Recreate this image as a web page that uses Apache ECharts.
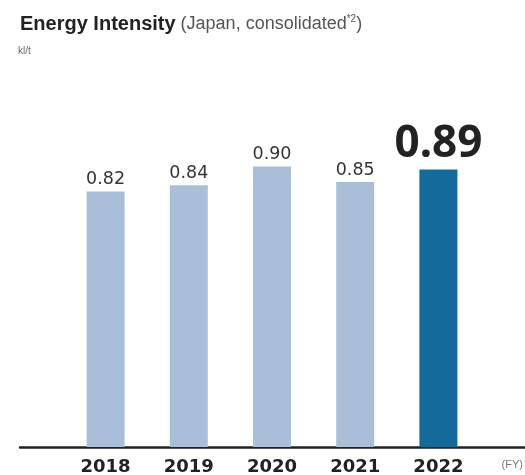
<!DOCTYPE html>
<html>
<head>
<meta charset="utf-8">
<script src="https://cdn.jsdelivr.net/npm/echarts@6/dist/echarts.min.js"></script>
<style>
  html, body { margin: 0; padding: 0; background: #fff; }
  #chart { width: 525px; height: 475px; }
</style>
</head>
<body>
<div id="chart"></div>
<script>
// data
var years = ['2018', '2019', '2020', '2021', '2022']
var intensity = [0.82, 0.84, 0.90, 0.85, 0.89]
var valueLabels = ['0.82', '0.84', '0.90', '0.85', '0.89']

var chart = echarts.init(document.getElementById('chart'))

var seriesData = intensity.map(function (v, i) {
    var last = i === intensity.length - 1
    return {
        value: v,
        itemStyle: { color: last ? '#136a9b' : '#a9bfd7' },
        label: last ? {
            fontFamily: 'Noto Sans',
            fontSize: 44,
            fontWeight: 'bold',
            color: '#222',
            distance: 3
        } : {}
    }
})

var option = {
    animation: false,
    title: {
        left: 15,
        top: 9,
        text: '{a|Energy Intensity} {b|(Japan, consolidated}{c|*2}{b|)}',
        textStyle: {
            fontWeight: 'normal',
            rich: {
                a: { fontFamily: 'Liberation Sans', fontWeight: 'bold', fontSize: 20, color: '#222' },
                b: { fontFamily: 'Liberation Sans', fontWeight: 'normal', fontSize: 18, color: '#555' },
                c: { fontFamily: 'Liberation Sans', fontWeight: 'normal', fontSize: 10, color: '#555', verticalAlign: 'top', padding: [0, 0, 8, 0] }
            }
        }
    },
    graphic: [
        {
            type: 'text', left: 18, top: 46,
            style: { text: 'kl/t', fontFamily: 'Liberation Sans', fontSize: 10, fill: '#666' }
        },
        {
            type: 'text', right: 2, top: 459,
            style: { text: '(FY)', fontFamily: 'Liberation Sans', fontSize: 11, fill: '#777' }
        }
    ],
    grid: [
        // bars
        { left: 64, right: 45, top: 73, bottom: 28, outerBoundsMode: 'none', containLabel: false },
        // baseline only
        { left: 20, right: 0, top: 73, bottom: 28, outerBoundsMode: 'none', containLabel: false }
    ],
    xAxis: [
        {
            type: 'category',
            gridIndex: 0,
            data: years,
            axisLine: { show: false },
            axisTick: { show: false },
            axisLabel: {
                margin: 11,
                fontFamily: 'DejaVu Sans',
                fontWeight: 'bold',
                fontSize: 18,
                color: '#222'
            }
        },
        {
            type: 'category',
            gridIndex: 1,
            data: [''],
            axisLine: { show: true, lineStyle: { color: '#222', width: 2.5 } },
            axisTick: { show: false },
            axisLabel: { show: false }
        }
    ],
    yAxis: [
        { type: 'value', gridIndex: 0, min: 0, max: 1.2, show: false },
        { type: 'value', gridIndex: 1, min: 0, max: 1.2, show: false }
    ],
    series: [
        {
            type: 'bar',
            xAxisIndex: 0,
            yAxisIndex: 0,
            barWidth: 38,
            data: seriesData,
            label: {
                show: true,
                position: 'top',
                distance: 3,
                fontFamily: 'DejaVu Sans',
                fontSize: 17.5,
                color: '#333',
                formatter: function (p) { return valueLabels[p.dataIndex] }
            }
        }
    ]
}

chart.setOption(option)
</script>
</body>
</html>
